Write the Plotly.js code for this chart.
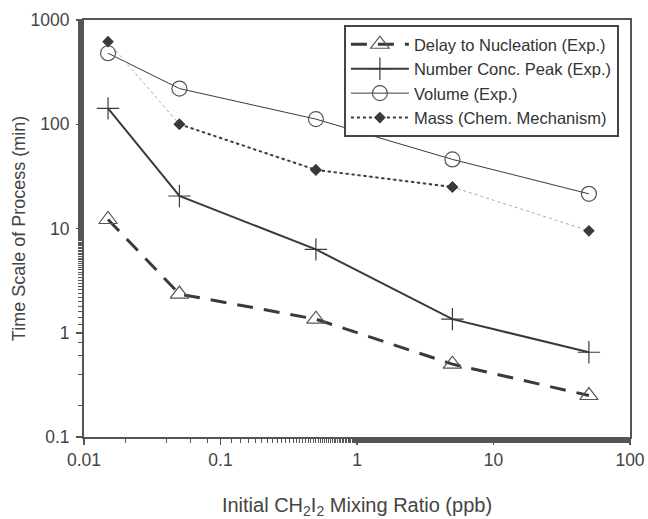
<!DOCTYPE html>
<html>
<head>
<meta charset="utf-8">
<script src="https://cdn.plot.ly/plotly-3.0.1.min.js"></script>
<style>html,body{margin:0;padding:0;background:#fff;}#chart{width:648px;height:519px;}</style>
</head>
<body>
<div id="chart"></div>
<script>
const mixingRatio = [0.015, 0.05, 0.5, 5, 50];
const delayNucleation = [12.2, 2.35, 1.35, 0.5, 0.25];
const numberConcPeak = [142, 20.5, 6.3, 1.35, 0.65];
const volumeExp = [480, 220, 112, 46, 21.5];
const massChem = [620, 100, 36.5, 25, 9.5];
const seriesNames = ['Delay to Nucleation (Exp.)', 'Number Conc. Peak (Exp.)', 'Volume (Exp.)', 'Mass (Chem. Mechanism)'];
const xTickLabels = ['0.01', '0.1', '1', '10', '100'];
const yTickLabels = ['0.1', '1', '10', '100', '1000'];

const dark = '#3a3a3a';
const traces = [
  {x: mixingRatio, y: delayNucleation, name: seriesNames[0], mode: 'lines+markers',
   line: {color: dark, width: 3, dash: '16px,11px'},
   marker: {symbol: 'triangle-up-open', size: 16, color: '#555', line: {width: 1.2}}},
  {x: mixingRatio, y: numberConcPeak, name: seriesNames[1], mode: 'lines+markers',
   line: {color: dark, width: 2},
   marker: {symbol: 'cross-thin-open', size: 16, color: dark, line: {width: 1.2, color: dark}}},
  {x: mixingRatio, y: volumeExp, name: seriesNames[2], mode: 'lines+markers',
   line: {color: dark, width: 1},
   marker: {symbol: 'circle-open', size: 15, color: '#555', line: {width: 1.2}}},
  {x: mixingRatio, y: massChem, name: seriesNames[3], mode: 'lines+markers', showlegend: false,
   line: {color: '#aaaaaa', width: 1, dash: 'dot'},
   marker: {symbol: 'diamond', size: 9, color: dark}},
  {x: mixingRatio.slice(1, 4), y: massChem.slice(1, 4), name: seriesNames[3], mode: 'lines+markers',
   line: {color: dark, width: 2, dash: 'dot'},
   marker: {symbol: 'diamond', size: 9, color: dark}}
];

const axisCommon = {
  type: 'log', showline: true, linecolor: '#555', linewidth: 2, mirror: true,
  showgrid: false, zeroline: false, ticks: 'outside', ticklen: 6, tickcolor: '#555', tickwidth: 1.5,
  tickfont: {family: 'Liberation Sans, Arial, sans-serif', size: 17.5, color: '#444'},
  minor: {ticks: 'outside', ticklen: 4, tickcolor: '#555', tickwidth: 1, showgrid: false}
};

const layout = {
  width: 648, height: 519,
  margin: {l: 84, r: 18, t: 20, b: 82},
  paper_bgcolor: '#fff', plot_bgcolor: '#fff',
  showlegend: true,
  font: {family: 'Liberation Sans, Arial, sans-serif', color: '#444'},
  xaxis: Object.assign({}, axisCommon, {
    range: [-2, 2], tickvals: [0.01, 0.1, 1, 10, 100], ticktext: xTickLabels,
    title: {text: 'Initial CH<sub>2</sub>I<sub>2</sub> Mixing Ratio (ppb)', font: {size: 20, color: '#444'}, standoff: 33}
  }),
  yaxis: Object.assign({}, axisCommon, {
    range: [-1, 3], tickvals: [0.1, 1, 10, 100, 1000], ticktext: yTickLabels,
    ticklabelstandoff: 3,
    title: {text: 'Time Scale of Process (min)', font: {size: 18, color: '#444'}, standoff: 0}
  }),
  legend: {
    x: 0.476, y: 0.988, xanchor: 'left', yanchor: 'top',
    bgcolor: '#fff', bordercolor: '#444', borderwidth: 2,
    font: {family: 'Liberation Sans, Arial, sans-serif', size: 16.5, color: '#333'},
    tracegroupgap: 0, itemwidth: 58
  }
};

Plotly.newPlot('chart', traces, layout, {displayModeBar: false, staticPlot: true});
</script>
</body>
</html>
